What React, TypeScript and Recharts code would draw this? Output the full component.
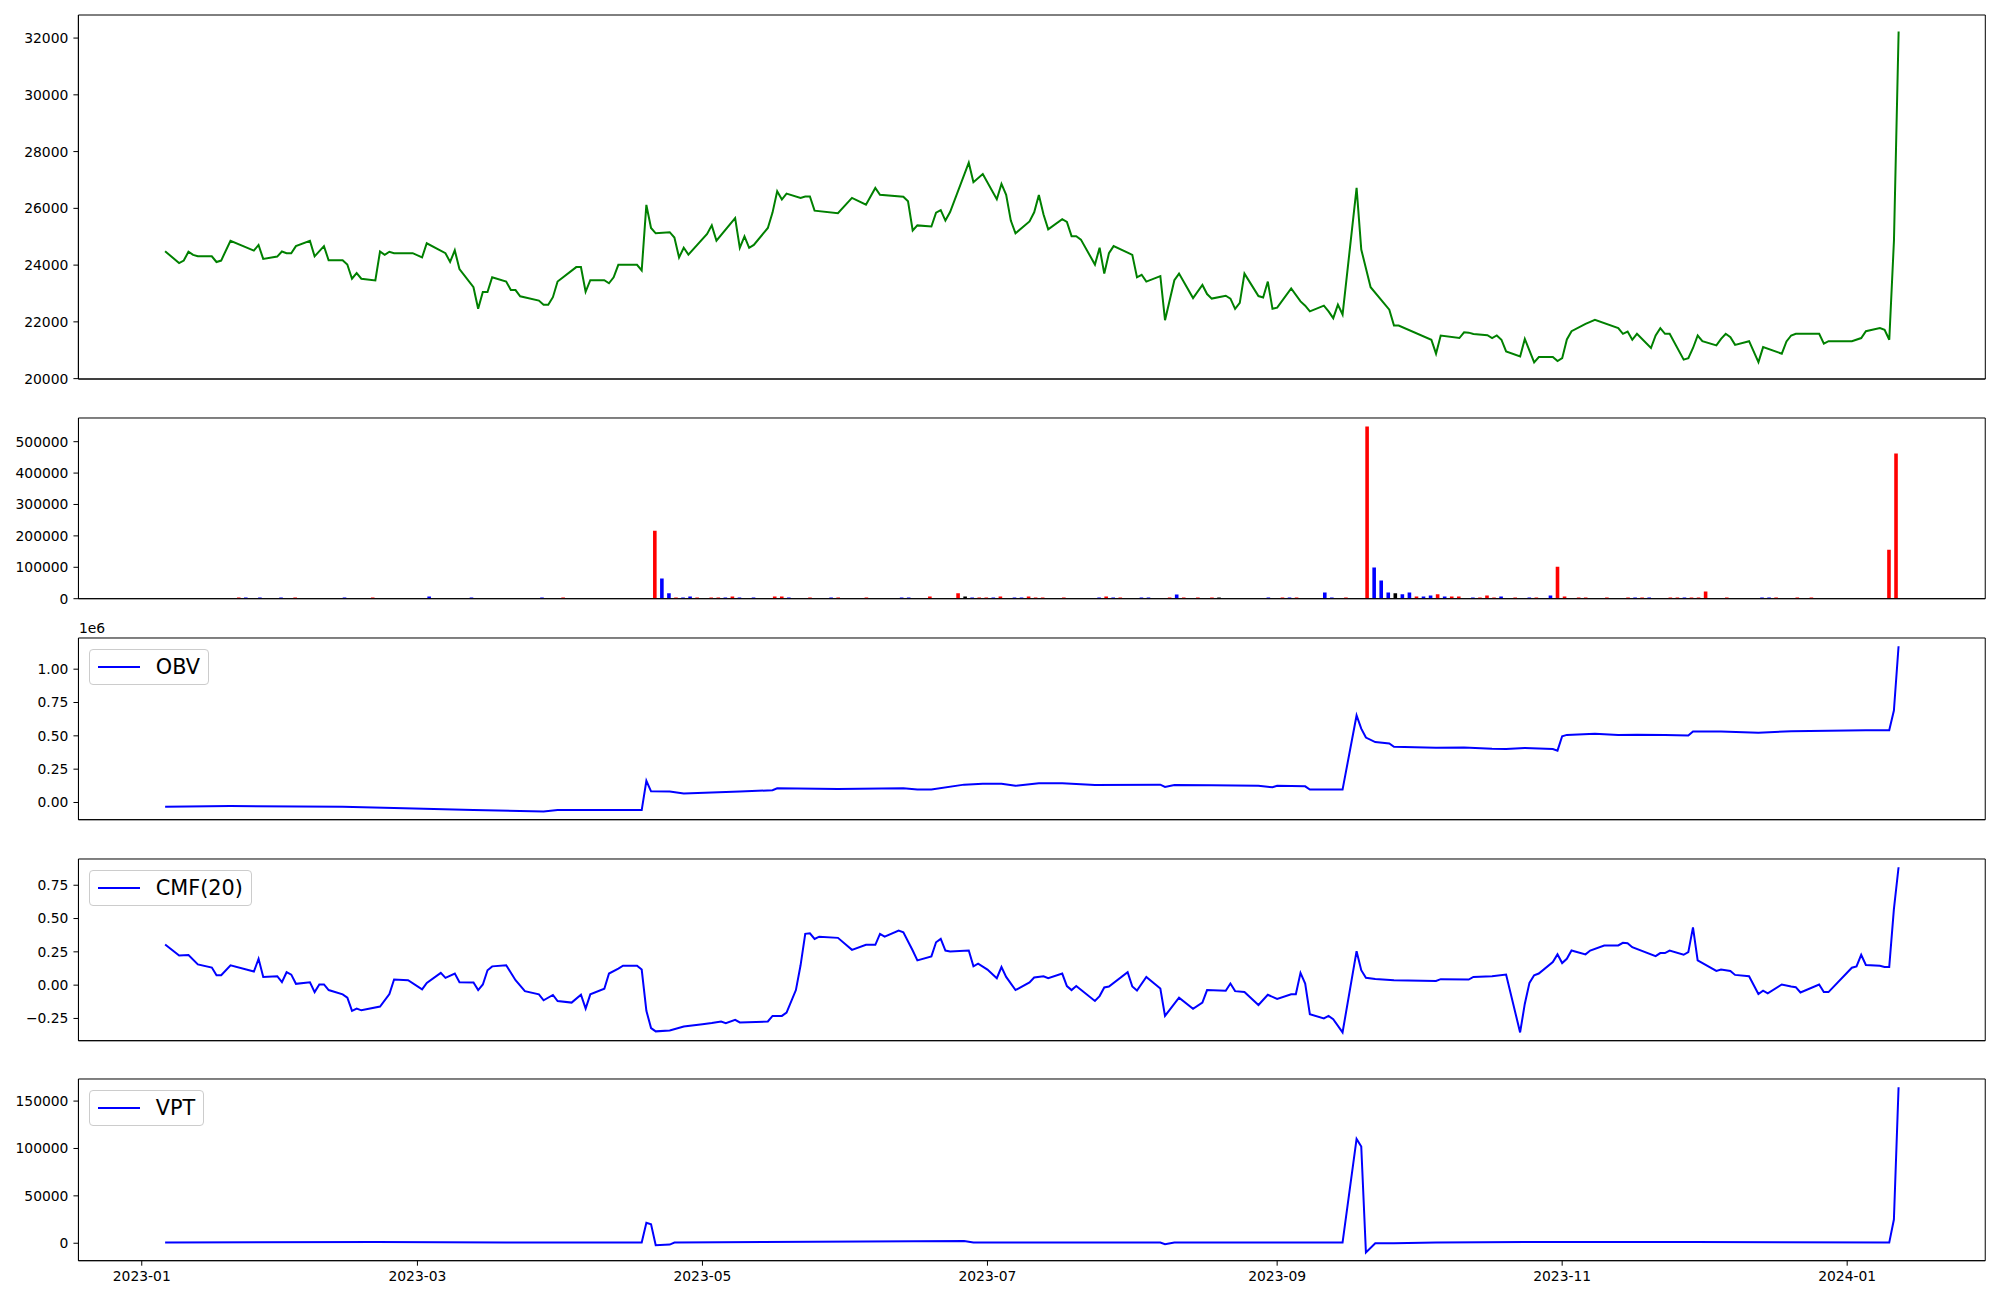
import React from "react"
import { ComposedChart, Line, Bar, Cell, XAxis, YAxis, Legend, CartesianGrid } from "recharts"

// ---- values ----

// closing price
const priceDates = [
    '2023-01-06', '2023-01-09', '2023-01-10', '2023-01-11', '2023-01-12', '2023-01-13', '2023-01-16', '2023-01-17', '2023-01-18', '2023-01-20', '2023-01-25', '2023-01-26', '2023-01-27', '2023-01-30', '2023-01-31',
    '2023-02-01', '2023-02-02', '2023-02-03', '2023-02-06', '2023-02-07', '2023-02-09', '2023-02-10', '2023-02-13', '2023-02-14', '2023-02-15', '2023-02-16', '2023-02-17', '2023-02-20', '2023-02-21', '2023-02-22', '2023-02-23', '2023-02-24', '2023-02-28',
    '2023-03-02', '2023-03-03', '2023-03-07', '2023-03-08', '2023-03-09', '2023-03-10', '2023-03-13', '2023-03-14', '2023-03-15', '2023-03-16', '2023-03-17', '2023-03-20', '2023-03-21', '2023-03-22', '2023-03-23', '2023-03-27', '2023-03-28', '2023-03-29', '2023-03-30', '2023-03-31',
    '2023-04-04', '2023-04-05', '2023-04-06', '2023-04-07', '2023-04-10', '2023-04-11', '2023-04-12', '2023-04-13', '2023-04-17', '2023-04-18', '2023-04-19', '2023-04-20', '2023-04-21', '2023-04-24', '2023-04-25', '2023-04-26', '2023-04-27', '2023-04-28',
    '2023-05-02', '2023-05-03', '2023-05-04', '2023-05-08', '2023-05-09', '2023-05-10', '2023-05-11', '2023-05-12', '2023-05-15', '2023-05-16', '2023-05-17', '2023-05-18', '2023-05-19', '2023-05-22', '2023-05-23', '2023-05-24', '2023-05-25', '2023-05-30',
    '2023-06-02', '2023-06-05', '2023-06-07', '2023-06-08', '2023-06-13', '2023-06-14', '2023-06-15', '2023-06-16', '2023-06-19', '2023-06-20', '2023-06-21', '2023-06-22', '2023-06-23', '2023-06-27', '2023-06-28', '2023-06-30',
    '2023-07-03', '2023-07-04', '2023-07-05', '2023-07-06', '2023-07-07', '2023-07-10', '2023-07-11', '2023-07-12', '2023-07-13', '2023-07-14', '2023-07-17', '2023-07-18', '2023-07-19', '2023-07-20', '2023-07-21', '2023-07-24', '2023-07-25', '2023-07-26', '2023-07-27', '2023-07-28', '2023-07-31',
    '2023-08-01', '2023-08-02', '2023-08-03', '2023-08-04', '2023-08-07', '2023-08-08', '2023-08-10', '2023-08-11', '2023-08-14', '2023-08-16', '2023-08-17', '2023-08-18', '2023-08-21', '2023-08-22', '2023-08-23', '2023-08-24', '2023-08-25', '2023-08-28', '2023-08-29', '2023-08-30', '2023-08-31',
    '2023-09-01', '2023-09-04', '2023-09-06', '2023-09-07', '2023-09-08', '2023-09-11', '2023-09-12', '2023-09-13', '2023-09-14', '2023-09-15', '2023-09-18', '2023-09-19', '2023-09-21', '2023-09-25', '2023-09-26', '2023-09-27',
    '2023-10-04', '2023-10-05', '2023-10-06', '2023-10-10', '2023-10-11', '2023-10-12', '2023-10-13', '2023-10-16', '2023-10-17', '2023-10-18', '2023-10-19', '2023-10-20', '2023-10-23', '2023-10-24', '2023-10-25', '2023-10-26', '2023-10-27', '2023-10-30', '2023-10-31',
    '2023-11-01', '2023-11-02', '2023-11-03', '2023-11-06', '2023-11-07', '2023-11-08', '2023-11-13', '2023-11-14', '2023-11-15', '2023-11-16', '2023-11-17', '2023-11-20', '2023-11-21', '2023-11-22', '2023-11-23', '2023-11-24', '2023-11-27', '2023-11-28', '2023-11-29', '2023-11-30',
    '2023-12-01', '2023-12-04', '2023-12-05', '2023-12-06', '2023-12-07', '2023-12-08', '2023-12-11', '2023-12-13', '2023-12-14', '2023-12-18', '2023-12-19', '2023-12-20', '2023-12-21', '2023-12-26', '2023-12-27', '2023-12-28',
    '2024-01-02', '2024-01-04', '2024-01-05', '2024-01-08', '2024-01-09', '2024-01-10', '2024-01-11', '2024-01-12',
]
const priceValues = [
    24490, 24070, 24160, 24470, 24360, 24310, 24310, 24110, 24160, 24860, 24510, 24710, 24220, 24300, 24480,
    24420, 24420, 24670, 24860, 24310, 24670, 24170, 24170, 24020, 23520, 23720, 23520, 23460, 24480, 24360, 24470, 24420, 24420,
    24270, 24770, 24420, 24110, 24520, 23860, 23220, 22460, 23050, 23050, 23570, 23420, 23120, 23120, 22900, 22750, 22600, 22600, 22870, 23420,
    23930, 23930, 23060, 23470, 23470, 23360, 23570, 24010, 24010, 23810, 26120, 25310, 25120, 25160, 24970, 24270, 24610, 24370,
    25100, 25400, 24860, 25660, 24610, 25010, 24610, 24710, 25310, 25850, 26600, 26310, 26520, 26370, 26420, 26420, 25920, 25830,
    26370, 26130, 26720, 26480, 26410, 26250, 25220, 25400, 25360, 25850, 25940, 25570, 25870, 27610, 26920, 27210,
    26320, 26860, 26480, 25570, 25120, 25540, 25860, 26470, 25780, 25260, 25620, 25520, 25020, 25020, 24900, 24020, 24610, 23700, 24420, 24670, 24440,
    24360, 23570, 23660, 23420, 23610, 22060, 23470, 23700, 22840, 23300, 22980, 22820, 22920, 22820, 22460, 22670, 23700, 22910, 22860, 23420, 22460,
    22500, 23180, 22720, 22570, 22370, 22570, 22370, 22130, 22610, 22260, 26720, 24550, 23220, 22430, 21870, 21870,
    21370, 20880, 21520, 21430, 21630, 21620, 21570, 21530, 21430, 21520, 21370, 20960, 20780, 21400, 20990, 20570, 20760, 20760, 20620,
    20720, 21380, 21670, 21930, 22000, 22070, 21780, 21580, 21660, 21370, 21580, 21080, 21520, 21780, 21580, 21580, 20670, 20720, 21080, 21520,
    21320, 21170, 21400, 21580, 21460, 21190, 21320, 20580, 21110, 20880, 21310, 21520, 21580, 21580, 21230, 21320,
    21320, 21430, 21670, 21780, 21720, 21370, 24860, 32230,
]

// volume bars are drawn against the trading-day index, not the date
const TRADING_DAYS = 246
const volIndex = [
    10, 11, 13, 16, 18, 25, 29, 37, 43, 53, 56,
    69, 70, 71, 72, 73, 74, 75, 77, 78, 79, 80, 81, 83, 86, 87, 88, 91, 94, 95, 99,
    104, 105, 108, 112, 113, 114, 115, 116, 117, 118, 120, 121, 122, 123, 124, 127,
    132, 133, 134, 135, 138, 139, 142, 143, 144, 146, 148, 149, 156, 158, 159, 160, 164, 165, 167,
    170, 171, 172, 173, 174, 175, 176, 177, 178, 179, 180, 181, 182, 183, 185, 186, 187, 188, 189, 191, 193, 194, 196, 197, 198,
    200, 201, 204, 207, 208, 209, 210, 213, 214, 215, 216, 217, 218, 221, 226, 227, 228, 231, 233, 244, 245,
]
const volValues = [
    4000, 4000, 4000, 4000, 4000, 4000, 4000, 7000, 4000, 4000, 4000,
    216000, 64000, 17000, 4000, 4000, 7000, 4000, 4000, 4000, 4000, 7000, 4000, 4000, 7000, 7000, 4000, 4000, 4000, 4000, 4000,
    4000, 4000, 7000, 17000, 7000, 4000, 4000, 4000, 4000, 7000, 4000, 4000, 7000, 4000, 4000, 4000,
    4000, 7000, 4000, 4000, 4000, 4000, 4000, 13000, 4000, 4000, 4000, 4000, 4000, 4000, 4000, 4000, 20000, 4000, 4000,
    548000, 99000, 58000, 20000, 17000, 14000, 20000, 7000, 7000, 10000, 14000, 7000, 7000, 7000, 4000, 4000, 10000, 4000, 7000, 4000, 4000, 4000, 10000, 102000, 7000,
    4000, 4000, 4000, 4000, 4000, 4000, 4000, 4000, 4000, 4000, 4000, 4000, 23000, 4000, 4000, 4000, 4000, 4000, 4000, 156000, 462000,
]
// u = close up, d = close down, f = unchanged
const volMoves = [
    'u', 'd', 'd', 'd', 'u', 'd', 'u', 'd', 'd', 'd', 'u',
    'u', 'd', 'd', 'u', 'd', 'd', 'u', 'u', 'u', 'd', 'u', 'd', 'd', 'u', 'u', 'd', 'u', 'd', 'u', 'u',
    'd', 'd', 'u', 'u', 'f', 'd', 'u', 'u', 'd', 'u', 'd', 'd', 'u', 'u', 'u', 'u',
    'd', 'u', 'd', 'u', 'd', 'd', 'u', 'd', 'u', 'u', 'u', 'f', 'd', 'u', 'd', 'u', 'd', 'd', 'u',
    'u', 'd', 'd', 'd', 'f', 'd', 'd', 'u', 'd', 'd', 'u', 'd', 'u', 'u', 'd', 'u', 'u', 'u', 'd', 'u', 'd', 'u', 'd', 'u', 'u',
    'u', 'u', 'u', 'u', 'd', 'u', 'd', 'u', 'u', 'd', 'u', 'u', 'u', 'u', 'd', 'd', 'u', 'u', 'u', 'u', 'u',
]

// on-balance volume
const obvDates = [
    '2023-01-06', '2023-01-20', '2023-02-13', '2023-02-24', '2023-03-13', '2023-03-28', '2023-03-31', '2023-04-18', '2023-04-19', '2023-04-20', '2023-04-24', '2023-04-27',
    '2023-05-09', '2023-05-16', '2023-05-17', '2023-05-30', '2023-06-13', '2023-06-16', '2023-06-19', '2023-06-26', '2023-06-30', '2023-07-04', '2023-07-07', '2023-07-12', '2023-07-17', '2023-07-24',
    '2023-08-07', '2023-08-08', '2023-08-10', '2023-08-18', '2023-08-28', '2023-08-31', '2023-09-01', '2023-09-07', '2023-09-08', '2023-09-15', '2023-09-18', '2023-09-19', '2023-09-20', '2023-09-22', '2023-09-25', '2023-09-26',
    '2023-10-05', '2023-10-11', '2023-10-17', '2023-10-20', '2023-10-24', '2023-10-30', '2023-10-31', '2023-11-01', '2023-11-02', '2023-11-08', '2023-11-13', '2023-11-17', '2023-11-23', '2023-11-28', '2023-11-29',
    '2023-12-05', '2023-12-13', '2023-12-20', '2023-12-28', '2024-01-05', '2024-01-10', '2024-01-11', '2024-01-12',
]
const obvValues = [
    -32000, -27000, -32000, -42000, -57000, -67000, -57000, -57000, 163000, 84000, 82000, 67000,
    82000, 92000, 107000, 102000, 107000, 97000, 97000, 134000, 141000, 141000, 126000, 144000, 144000, 131000,
    134000, 117000, 131000, 129000, 126000, 114000, 126000, 121000, 97000, 97000, 653000, 554000, 487000, 453000, 443000, 418000,
    411000, 413000, 403000, 401000, 409000, 401000, 389000, 497000, 507000, 515000, 507000, 509000, 507000, 502000, 532000,
    532000, 524000, 534000, 539000, 542000, 542000, 690000, 1172000,
]

// Chaikin money flow, 20 days
const cmfDates = [
    '2023-01-06', '2023-01-09', '2023-01-11', '2023-01-13', '2023-01-16', '2023-01-17', '2023-01-18', '2023-01-20', '2023-01-25', '2023-01-26', '2023-01-27', '2023-01-30', '2023-01-31',
    '2023-02-01', '2023-02-02', '2023-02-03', '2023-02-06', '2023-02-07', '2023-02-08', '2023-02-09', '2023-02-10', '2023-02-13', '2023-02-14', '2023-02-15', '2023-02-16', '2023-02-17', '2023-02-21', '2023-02-23', '2023-02-24', '2023-02-27',
    '2023-03-02', '2023-03-03', '2023-03-06', '2023-03-07', '2023-03-09', '2023-03-10', '2023-03-13', '2023-03-14', '2023-03-15', '2023-03-16', '2023-03-17', '2023-03-20', '2023-03-22', '2023-03-24', '2023-03-27', '2023-03-28', '2023-03-30', '2023-03-31',
    '2023-04-03', '2023-04-05', '2023-04-06', '2023-04-07', '2023-04-10', '2023-04-11', '2023-04-13', '2023-04-14', '2023-04-17', '2023-04-18', '2023-04-19', '2023-04-20', '2023-04-21', '2023-04-24', '2023-04-27',
    '2023-05-01', '2023-05-03', '2023-05-05', '2023-05-06', '2023-05-08', '2023-05-09', '2023-05-15', '2023-05-16', '2023-05-18', '2023-05-19', '2023-05-21', '2023-05-22', '2023-05-23', '2023-05-24', '2023-05-25', '2023-05-26', '2023-05-30',
    '2023-06-02', '2023-06-05', '2023-06-07', '2023-06-08', '2023-06-09', '2023-06-12', '2023-06-13', '2023-06-15', '2023-06-16', '2023-06-19', '2023-06-20', '2023-06-21', '2023-06-22', '2023-06-23', '2023-06-27', '2023-06-28', '2023-06-29',
    '2023-07-01', '2023-07-03', '2023-07-04', '2023-07-05', '2023-07-07', '2023-07-10', '2023-07-11', '2023-07-13', '2023-07-14', '2023-07-17', '2023-07-18', '2023-07-19', '2023-07-20', '2023-07-24', '2023-07-25', '2023-07-26', '2023-07-27', '2023-07-31',
    '2023-08-01', '2023-08-02', '2023-08-04', '2023-08-07', '2023-08-08', '2023-08-11', '2023-08-14', '2023-08-16', '2023-08-17', '2023-08-21', '2023-08-22', '2023-08-23', '2023-08-25', '2023-08-28', '2023-08-30',
    '2023-09-01', '2023-09-04', '2023-09-05', '2023-09-06', '2023-09-07', '2023-09-08', '2023-09-11', '2023-09-12', '2023-09-13', '2023-09-15', '2023-09-18', '2023-09-19', '2023-09-20', '2023-09-22', '2023-09-26',
    '2023-10-05', '2023-10-06', '2023-10-12', '2023-10-13', '2023-10-17', '2023-10-20', '2023-10-23', '2023-10-24', '2023-10-25', '2023-10-26', '2023-10-27', '2023-10-30', '2023-10-31',
    '2023-11-01', '2023-11-02', '2023-11-03', '2023-11-06', '2023-11-07', '2023-11-10', '2023-11-13', '2023-11-14', '2023-11-15', '2023-11-16', '2023-11-21', '2023-11-22', '2023-11-23', '2023-11-24', '2023-11-27', '2023-11-28', '2023-11-29', '2023-11-30',
    '2023-12-04', '2023-12-05', '2023-12-07', '2023-12-08', '2023-12-11', '2023-12-13', '2023-12-14', '2023-12-15', '2023-12-18', '2023-12-20', '2023-12-21', '2023-12-22', '2023-12-26', '2023-12-27', '2023-12-28',
    '2024-01-02', '2024-01-03', '2024-01-04', '2024-01-05', '2024-01-08', '2024-01-09', '2024-01-10', '2024-01-11', '2024-01-12',
]
const cmfValues = [
    0.305, 0.223, 0.226, 0.156, 0.132, 0.074, 0.074, 0.149, 0.102, 0.198, 0.062, 0.067, 0.022,
    0.097, 0.079, 0.010, 0.022, -0.052, 0.005, 0.005, -0.037, -0.069, -0.094, -0.193, -0.176, -0.189, -0.161, -0.067, 0.042, 0.037,
    -0.032, 0.017, 0.092, 0.055, 0.087, 0.022, 0.020, -0.037, 0.005, 0.112, 0.141, 0.149, 0.037, -0.045, -0.069, -0.114, -0.074, -0.119,
    -0.131, -0.072, -0.176, -0.069, -0.027, 0.087, 0.124, 0.146, 0.146, 0.117, -0.193, -0.322, -0.347, -0.340, -0.310,
    -0.293, -0.285, -0.273, -0.285, -0.260, -0.280, -0.273, -0.231, -0.231, -0.206, -0.037, 0.149, 0.385, 0.389, 0.347, 0.364, 0.355,
    0.265, 0.303, 0.303, 0.385, 0.364, 0.409, 0.397, 0.260, 0.186, 0.216, 0.322, 0.347, 0.260, 0.253, 0.260, 0.141, 0.161,
    0.117, 0.052, 0.136, 0.062, -0.037, 0.020, 0.057, 0.067, 0.052, 0.087, -0.007, -0.037, -0.007, -0.119, -0.082, -0.017, -0.010, 0.097,
    -0.010, -0.040, 0.062, -0.025, -0.231, -0.094, -0.178, -0.131, -0.037, -0.042, 0.012, -0.045, -0.052, -0.149, -0.072,
    -0.104, -0.069, -0.069, 0.092, 0.012, -0.218, -0.250, -0.231, -0.256, -0.355, 0.255, 0.112, 0.055, 0.047, 0.037,
    0.032, 0.045, 0.042, 0.062, 0.067, 0.079, -0.355, -0.141, 0.017, 0.074, 0.087, 0.174, 0.231,
    0.166, 0.198, 0.260, 0.231, 0.260, 0.298, 0.298, 0.318, 0.315, 0.285, 0.218, 0.241, 0.241, 0.260, 0.228, 0.248, 0.434, 0.186,
    0.107, 0.117, 0.107, 0.077, 0.067, -0.067, -0.042, -0.062, 0.005, -0.010, -0.015, -0.055, 0.005, -0.052, -0.052,
    0.131, 0.141, 0.228, 0.151, 0.146, 0.136, 0.136, 0.570, 0.885,
]

// volume price trend
const vptDates = [
    '2023-01-06', '2023-02-20', '2023-03-20', '2023-04-18', '2023-04-19', '2023-04-20', '2023-04-21', '2023-04-24', '2023-04-25',
    '2023-06-26', '2023-06-28', '2023-08-07', '2023-08-08', '2023-08-10', '2023-09-15', '2023-09-18', '2023-09-19', '2023-09-20',
    '2023-09-22', '2023-09-26', '2023-10-05', '2023-11-01', '2023-11-29', '2024-01-10', '2024-01-11', '2024-01-12',
]
const vptValues = [
    700, 1400, 700, 700, 21500, 20100, -2100, -1400, 700,
    2400, 700, 700, -1000, 700, 700, 110100, 102100, -9700,
    0, 0, 700, 1400, 1400, 700, 25000, 164600,
]

const monthTicks = ['2023-01-01', '2023-03-01', '2023-05-01', '2023-07-01', '2023-09-01', '2023-11-01', '2024-01-01']
const priceTicks = [20000, 22000, 24000, 26000, 28000, 30000, 32000]
const volTicks = [0, 100000, 200000, 300000, 400000, 500000]
const obvTicks = [0, 250000, 500000, 750000, 1000000]
const cmfTicks = [-0.25, 0, 0.25, 0.5, 0.75]
const vptTicks = [0, 50000, 100000, 150000]

// ---- layout ----
const W = 2000
const LEFT = 78.4
const RIGHT = 1985.3
const YW = 70
const PAD = 10
const SPINE = { stroke: '#000', strokeWidth: 1 }
const TICK = { fill: '#000', fontSize: 13.9 }
const MOVE_COLORS: Record<string, string> = { u: '#ff0000', d: '#0000ff', f: '#000000' }

const toTime = (s: string) => Date.parse(s + 'T00:00:00Z')
const toSeries = (dates: string[], values: number[]) => dates.map((d, i) => ({ t: toTime(d), v: values[i] }))
const padded = (vals: number[]): [number, number] => {
    const lo = Math.min(...vals)
    const hi = Math.max(...vals)
    const m = (hi - lo) * 0.05
    return [lo - m, hi + m]
}

const priceData = toSeries(priceDates, priceValues)
const obvData = toSeries(obvDates, obvValues)
const cmfData = toSeries(cmfDates, cmfValues)
const vptData = toSeries(vptDates, vptValues)
const volData = volIndex.map((idx, i) => ({ i: idx, v: volValues[i], m: volMoves[i] }))

const timeDomain = padded(priceDates.map(toTime))
const volXDomain = padded([-0.4, TRADING_DAYS - 1 + 0.4])

const fmtMinus = (v: number, digits: number) => (v < 0 ? '\u2212' : '') + Math.abs(v).toFixed(digits)

// frame = the four spines, drawn as grid lines on the plot edges
const frameRows = ({ offset }: any) => [offset.top, offset.top + offset.height]
const frameCols = ({ offset }: any) => [offset.left, offset.left + offset.width]

function LegendBox(props: any) {
    const item = props.payload && props.payload[0]
    if (!item) return null
    return (
        <div style={{
            display: 'inline-flex',
            alignItems: 'center',
            border: '1px solid #cccccc',
            borderRadius: 4,
            background: 'rgba(255,255,255,0.8)',
            padding: '5px 8px',
            fontSize: 20.8,
            lineHeight: '24px',
            color: '#000',
            whiteSpace: 'nowrap',
        }}>
            <svg width={42} height={6}>
                <line x1={0} y1={3} x2={42} y2={3} stroke={item.color} strokeWidth={2} />
            </svg>
            <span style={{ marginLeft: 16 }}>{item.value}</span>
        </div>
    )
}

interface PanelProps {
    top: number
    height: number
    data: any[]
    xKey: string
    xDomain: [number, number]
    yDomain: [number, number]
    yTicks: number[]
    yFmt?: (v: number) => string
    series: React.ReactElement
    legend?: boolean
    dates?: boolean
    offsetText?: string
}

function Panel({ top, height, data, xKey, xDomain, yDomain, yTicks, yFmt, series, legend, dates, offsetText }: PanelProps) {
    const bottom = dates ? 30 : 10
    return (
        <div style={{ position: 'absolute', left: 0, top: top - PAD }}>
            {offsetText && (
                <div style={{ position: 'absolute', left: LEFT + 0.5, top: PAD - 18, fontSize: 13.9, lineHeight: '16px' }}>
                    {offsetText}
                </div>
            )}
            <ComposedChart
                width={W}
                height={PAD + height + bottom}
                data={data}
                margin={{ top: PAD, right: W - RIGHT, bottom: 0, left: LEFT - YW }}
            >
                <CartesianGrid
                    stroke="#000"
                    strokeWidth={1}
                    fill="none"
                    horizontalCoordinatesGenerator={frameRows}
                    verticalCoordinatesGenerator={frameCols}
                />
                {dates ? (
                    <XAxis
                        dataKey={xKey}
                        type="number"
                        domain={xDomain}
                        allowDataOverflow
                        ticks={monthTicks.map(toTime)}
                        interval={0}
                        tickFormatter={(v: number) => new Date(v).toISOString().slice(0, 7)}
                        height={bottom}
                        tickSize={5}
                        tickMargin={5}
                        axisLine={SPINE}
                        tickLine={SPINE}
                        tick={TICK}
                    />
                ) : (
                    <XAxis
                        dataKey={xKey}
                        type="number"
                        domain={xDomain}
                        allowDataOverflow
                        height={bottom}
                        tick={false}
                        tickLine={false}
                        axisLine={SPINE}
                    />
                )}
                <YAxis
                    type="number"
                    domain={yDomain}
                    allowDataOverflow
                    ticks={yTicks}
                    interval={0}
                    tickFormatter={yFmt}
                    width={YW}
                    tickSize={5}
                    tickMargin={5}
                    axisLine={SPINE}
                    tickLine={SPINE}
                    tick={TICK}
                />
                {legend && (
                    <Legend
                        layout="horizontal"
                        verticalAlign="middle"
                        align="center"
                        content={<LegendBox />}
                        wrapperStyle={{ left: LEFT + 10.4, top: PAD + 10.4, width: 'auto', height: 'auto' }}
                    />
                )}
                {series}
            </ComposedChart>
        </div>
    )
}

export default function App() {
    const volMax = Math.max(...volValues)
    return (
        <div style={{
            position: 'absolute',
            left: 0,
            top: 0,
            width: W,
            height: 1300,
            background: '#fff',
            fontFamily: '"DejaVu Sans", sans-serif',
        }}>
            <Panel
                top={15}
                height={364}
                data={priceData}
                xKey="t"
                xDomain={timeDomain}
                yDomain={padded(priceValues)}
                yTicks={priceTicks}
                series={<Line dataKey="v" type="linear" stroke="#008000" strokeWidth={2} dot={false} isAnimationActive={false} />}
            />
            <Panel
                top={418.3}
                height={180.7}
                data={volData}
                xKey="i"
                xDomain={volXDomain}
                yDomain={[0, volMax * 1.05]}
                yTicks={volTicks}
                series={
                    <Bar dataKey="v" barSize={3.6} isAnimationActive={false}>
                        {volData.map((d, i) => (
                            <Cell key={`vol-${i}`} fill={MOVE_COLORS[d.m]} />
                        ))}
                    </Bar>
                }
            />
            <Panel
                top={638.3}
                height={181.7}
                data={obvData}
                xKey="t"
                xDomain={timeDomain}
                yDomain={padded(obvValues)}
                yTicks={obvTicks}
                yFmt={(v) => fmtMinus(v / 1e6, 2)}
                legend
                offsetText="1e6"
                series={<Line dataKey="v" name="OBV" type="linear" stroke="#0000ff" strokeWidth={2} dot={false} isAnimationActive={false} />}
            />
            <Panel
                top={859.3}
                height={181.7}
                data={cmfData}
                xKey="t"
                xDomain={timeDomain}
                yDomain={padded(cmfValues)}
                yTicks={cmfTicks}
                yFmt={(v) => fmtMinus(v, 2)}
                legend
                series={<Line dataKey="v" name="CMF(20)" type="linear" stroke="#0000ff" strokeWidth={2} dot={false} isAnimationActive={false} />}
            />
            <Panel
                top={1079.3}
                height={181.7}
                data={vptData}
                xKey="t"
                xDomain={timeDomain}
                yDomain={padded(vptValues)}
                yTicks={vptTicks}
                yFmt={(v) => fmtMinus(v, 0)}
                legend
                dates
                series={<Line dataKey="v" name="VPT" type="linear" stroke="#0000ff" strokeWidth={2} dot={false} isAnimationActive={false} />}
            />
        </div>
    )
}
